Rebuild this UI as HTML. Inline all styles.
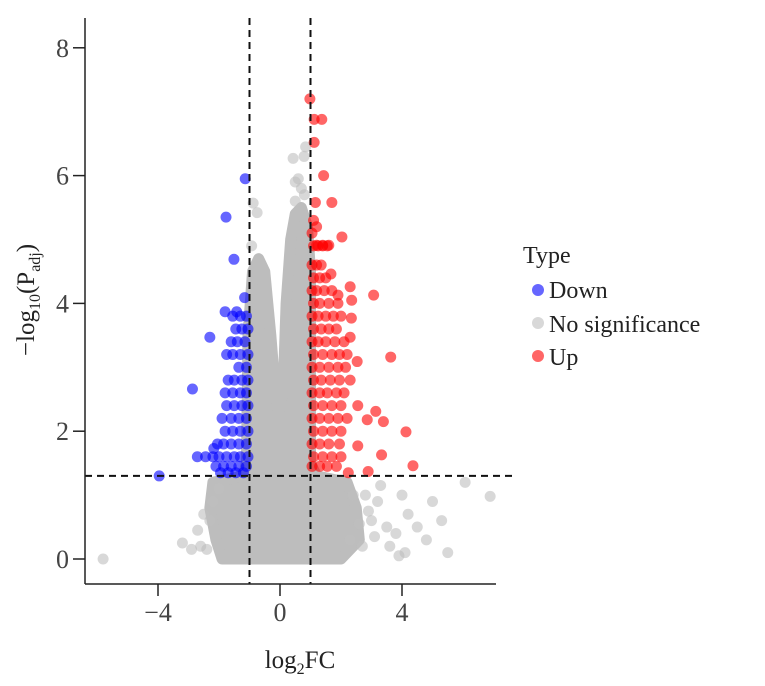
<!DOCTYPE html>
<html><head><meta charset="utf-8"><style>
body{margin:0;background:#fff;}
svg text{font-family:"Liberation Serif",serif;}
</style></head><body>
<svg id="chart" width="765" height="681" viewBox="0 0 765 681" xmlns="http://www.w3.org/2000/svg">
<g id="mass"></g>
<g id="pts"></g>
<g id="ref"></g>
<g id="axes"></g>
<g>
<text x="523" y="263" font-size="24" fill="#222">Type</text>
<circle cx="538" cy="290" r="6" fill="#0000ff" fill-opacity="0.6"/>
<text x="549" y="298" font-size="24" fill="#222">Down</text>
<circle cx="538" cy="323" r="6" fill="#bebebe" fill-opacity="0.6"/>
<text x="549" y="332" font-size="24" fill="#222">No significance</text>
<circle cx="538" cy="356" r="6" fill="#ff0000" fill-opacity="0.6"/>
<text x="549" y="365" font-size="24" fill="#222">Up</text>
</g>
<text x="300" y="668" font-size="25" fill="#222" text-anchor="middle">log<tspan font-size="16" dy="6">2</tspan><tspan dy="-6">FC</tspan></text>
<text transform="translate(34,300) rotate(-90)" font-size="25" fill="#222" text-anchor="middle">−log<tspan font-size="16" dy="6">10</tspan><tspan dy="-6">(P</tspan><tspan font-size="16" dy="6">adj</tspan><tspan dy="-6">)</tspan></text>
</svg>
<script>
const xTicks=[-4,0,4];
const yTicks=[0,2,4,6,8];
const fcCut=[-1,1];
const pCut=1.3;
const massOutline=[[-1.9,0],[-2.1,0.3],[-2.3,0.8],[-2.2,1.2],[-1.2,1.3],[-1.1,1.5],[-1.05,3.5],[-0.9,4.5],[-0.7,4.7],[-0.5,4.5],[-0.3,3.5],[-0.15,2.6],[-0.05,2.3],[0.1,2.6],[0.2,4],[0.35,5],[0.5,5.4],[0.7,5.5],[0.9,5.2],[1.0,4.5],[1.0,1.5],[1.2,1.3],[2.2,1.2],[2.5,0.8],[2.6,0.3],[2.0,0]];
const grayX=[-2.6,-2.4,-2.3,-2.5,-2.2,-2.7,-2.0,2.7,3.0,3.2,3.5,3.6,3.8,4.0,4.2,4.5,4.8,5.0,5.3,3.3,2.9,4.1,3.9,5.5,6.07,6.89,-5.8,2.8,3.1,2.6,0.43,0.79,0.84,-0.88,-0.75,-0.93,0.5,0.6,0.7,0.5,0.8,-3.2,-2.9,2.4,2.3];
const grayY=[0.2,0.15,0.6,0.7,0.9,0.45,1.1,0.2,0.6,0.9,0.5,0.2,0.4,1.0,0.7,0.5,0.3,0.9,0.6,1.15,0.75,0.1,0.05,0.1,1.2,0.98,0,1.0,0.35,0.55,6.27,6.3,6.45,5.57,5.42,4.9,5.9,5.95,5.8,5.6,5.7,0.25,0.15,1.0,0.3];
const upX=[0.98,1.12,1.37,1.12,1.43,1.16,1.7,2.03,1.2,1.4,1.6,1.67,2.3,3.07,2.35,1.9,2.34,2.3,3.63,2.53,3.14,3.39,2.86,4.13,2.55,3.33,4.36,2.89,2.24,2.55,1.1,1.05,1.2,
1.1,1.25,1.4,1.55,1.05,1.2,1.35,1.1,1.3,1.5,1.05,1.2,1.45,1.7,1.1,1.3,1.6,1.9,1.05,1.25,1.5,1.75,2.0,1.1,1.35,1.6,1.85,1.05,1.25,1.5,1.8,2.1,1.1,1.4,1.7,1.95,2.2,1.05,1.3,1.6,1.9,2.15,1.1,1.35,1.65,1.95,2.3,1.05,1.3,1.55,1.85,2.1,1.1,1.4,1.7,2.0,1.05,1.3,1.6,1.9,2.2,1.1,1.4,1.7,2.0,1.05,1.3,1.6,1.95,1.1,1.4,1.7,2.0,1.05,1.3,1.55,1.85];
const upY=[7.2,6.88,6.88,6.52,6.0,5.58,5.58,5.04,4.91,4.91,4.91,4.46,4.26,4.13,4.05,4.13,3.77,3.47,3.16,3.09,2.31,2.15,2.18,1.99,1.77,1.63,1.46,1.37,1.35,2.4,5.3,5.1,5.2,
4.9,4.9,4.9,4.9,4.6,4.6,4.6,4.4,4.4,4.4,4.2,4.2,4.2,4.2,4.0,4.0,4.0,4.0,3.8,3.8,3.8,3.8,3.8,3.6,3.6,3.6,3.6,3.4,3.4,3.4,3.4,3.4,3.2,3.2,3.2,3.2,3.2,3.0,3.0,3.0,3.0,3.0,2.8,2.8,2.8,2.8,2.8,2.6,2.6,2.6,2.6,2.6,2.4,2.4,2.4,2.4,2.2,2.2,2.2,2.2,2.2,2.0,2.0,2.0,2.0,1.8,1.8,1.8,1.8,1.6,1.6,1.6,1.6,1.45,1.45,1.45,1.45];
const downX=[-1.14,-1.77,-1.51,-1.16,-1.8,-1.42,-2.3,-2.87,-3.96,-2.71,-2.44,-2.17,
-1.1,-1.3,-1.55,-1.05,-1.25,-1.45,-1.15,-1.4,-1.6,-1.05,-1.3,-1.55,-1.75,-1.1,-1.35,-1.05,-1.25,-1.5,-1.7,-1.1,-1.3,-1.55,-1.8,-1.05,-1.25,-1.5,-1.75,-1.1,-1.35,-1.6,-1.9,-1.05,-1.3,-1.55,-1.8,-1.1,-1.35,-1.6,-1.85,-2.05,-1.05,-1.3,-1.5,-1.75,-2.0,-2.2,-1.1,-1.35,-1.6,-1.85,-2.1,-1.2,-1.45,-1.7,-1.95];
const downY=[5.95,5.35,4.69,4.09,3.87,3.87,3.47,2.66,1.3,1.6,1.6,1.73,
3.8,3.8,3.8,3.6,3.6,3.6,3.4,3.4,3.4,3.2,3.2,3.2,3.2,3.0,3.0,2.8,2.8,2.8,2.8,2.6,2.6,2.6,2.6,2.4,2.4,2.4,2.4,2.2,2.2,2.2,2.2,2.0,2.0,2.0,2.0,1.8,1.8,1.8,1.8,1.8,1.6,1.6,1.6,1.6,1.6,1.6,1.45,1.45,1.45,1.45,1.45,1.35,1.35,1.35,1.35];

const NS='http://www.w3.org/2000/svg';
const sx=v=>280+v*30.5;
const sy=v=>559-v*63.9;
const L=85,R=496,T=18,B=584;
function mk(tag,attrs,parent){const e=document.createElementNS(NS,tag);for(const k in attrs)e.setAttribute(k,attrs[k]);parent.appendChild(e);return e;}
const mass=document.getElementById('mass'),pts=document.getElementById('pts'),ref=document.getElementById('ref'),axes=document.getElementById('axes');
const poly=mk('polygon',{points:massOutline.map(p=>sx(p[0])+','+sy(p[1])).join(' '),fill:'#bdbdbd',stroke:'#bdbdbd','stroke-width':11,'stroke-linejoin':'round'},mass);


function series(xs,ys,color,name){xs.forEach((x,i)=>{const c=mk('circle',{cx:sx(x),cy:sy(ys[i]),r:5.5,fill:color,'fill-opacity':0.6},pts);

});}
series(grayX,grayY,'#bebebe','point-no-significance');
series(downX,downY,'#0000ff','point-down');
series(upX,upY,'#ff0000','point-up');
fcCut.forEach(v=>{const l=mk('line',{x1:sx(v),x2:sx(v),y1:T,y2:B,stroke:'#111','stroke-width':2,'stroke-dasharray':'7,5'},ref);

});
const hl=mk('line',{x1:L,x2:R+20,y1:sy(pCut),y2:sy(pCut),stroke:'#111','stroke-width':2,'stroke-dasharray':'7,5'},ref);


const ya=mk('line',{x1:L,x2:L,y1:T,y2:B,stroke:'#222','stroke-width':1.5},axes);


const xa=mk('line',{x1:L,x2:R,y1:B,y2:B,stroke:'#222','stroke-width':1.5},axes);


yTicks.forEach(v=>{mk('line',{x1:L-12,x2:L,y1:sy(v),y2:sy(v),stroke:'#222','stroke-width':1.5},axes);
const t=mk('text',{x:L-16,y:sy(v)+9,'font-size':26,fill:'#444','text-anchor':'end'},axes);t.textContent=v;

});
xTicks.forEach(v=>{mk('line',{x1:sx(v),x2:sx(v),y1:B,y2:B+12,stroke:'#222','stroke-width':1.5},axes);
const t=mk('text',{x:sx(v),y:B+37,'font-size':26,fill:'#444','text-anchor':'middle'},axes);t.textContent=v<0?'−'+Math.abs(v):v;

});
</script>
</body></html>
